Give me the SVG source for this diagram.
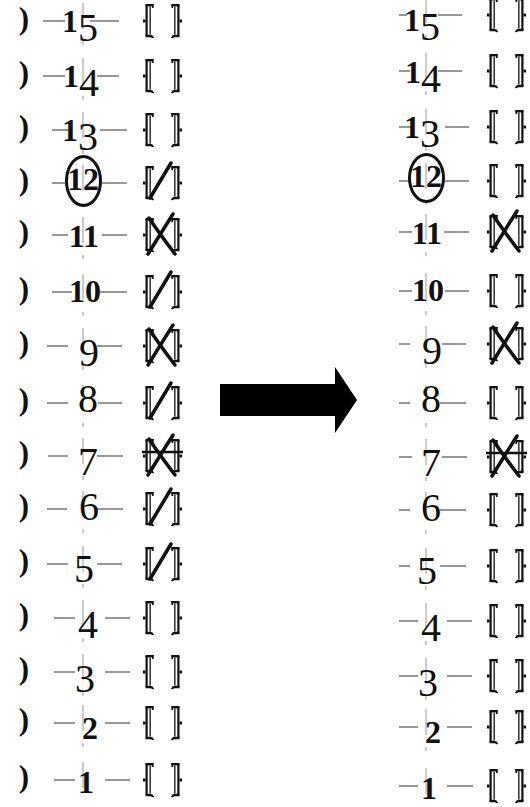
<svg xmlns="http://www.w3.org/2000/svg" width="530" height="807" viewBox="0 0 530 807">
<style>
.dash{stroke:#777;stroke-width:1.5}
.hair{stroke:#999;stroke-width:1}
.num{font-family:"Liberation Serif",serif;font-size:40px;fill:#111}
.s{font-size:32px;font-weight:bold}
.b{font-size:40px;font-weight:normal}
.par{font-family:"Liberation Serif",serif;font-size:31px;font-weight:bold;fill:#111}
.mk{stroke:#111;stroke-width:3.5;fill:none;stroke-linecap:round}
.bar{stroke:#111;stroke-width:2.5;fill:none}
.ring{stroke:#111;stroke-width:3;fill:none}
</style>
<defs>
<g id="lb" fill="#111">
<rect x="0" y="-1.5" width="2.5" height="3"/>
<rect x="2.5" y="-16" width="2.2" height="31"/>
<rect x="6.5" y="-14.5" width="1.3" height="28"/>
<rect x="2.5" y="-17" width="8" height="2.4"/>
<rect x="9" y="-17" width="1.6" height="4"/>
<path d="M2.5,13.8 H7.5 Q9.8,13.8 11.2,17 L9.4,17.2 Q8.5,16.2 7,16.2 H2.5Z"/>
</g>
<g id="bp">
<use href="#lb"/>
<use href="#lb" transform="translate(39,0) scale(-1,1)"/>
</g>
<path id="sl" class="mk" d="M7,15 L28,-20"/>
<g id="xx"><path class="mk" d="M6,-17 Q16,-2 32,19"/><path class="mk" d="M30,-21 Q18,-2 5,19"/></g>
<g id="xb"><use href="#xx"/><path class="bar" d="M-1,-4 H40"/></g>
</defs>

<g id="arrow">
<polygon points="220,384 335,384 335,367 357,400 335,433 335,416 220,416" fill="#000"/>
</g>

<g id="connectors">
<path class="dash" d="M43,21H65M90,21H119M43,76H65M97,76H119M52,130H72M100,130H127M52,183H65M102,183H127M52,235H68M102,235H127M52,292H72M100,292H127M47,346H68M97,346H122M47,403H68M98,403H122M48,456H68M97,456H123M47,509H67M97,509H123M47,564H68M97,564H122M54,618H75M105,618H130M54,672H75M105,672H130M54,723H75M105,723H130M54,780H75M105,780H130"/>
<path class="dash" d="M399,15H407M438,15H462M399,71H410M438,71H462M399,127H412M445,127H469M399,181H409M445,181H469M399,232H412M444,232H469M399,291H412M445,291H469M399,344H410M442,344H466M399,403H410M440,403H466M399,457H412M442,457H467M399,510H410M440,510H466M399,566H410M440,566H466M399,621H418M447,621H472M399,676H418M447,676H472M399,727H418M447,727H472M399,786H418M447,786H473"/>
<path class="hair" d="M83,3V29M83,41V45M83,58V84M83,96V100M83,112V138M83,150V154M83,165V191M83,203V207M83,217V243M83,255V259M83,274V300M83,312V316M83,328V354M83,366V370M83,385V411M83,423V427M83,438V464M83,476V480M83,491V517M83,529V533M83,546V572M83,584V588M83,600V626M83,638V642M83,654V680M83,692V696M83,705V731M83,743V747M83,762V788"/>
<path class="hair" d="M426,0V23M426,35V39M426,53V79M426,91V95M426,109V135M426,147V151M426,163V189M426,201V205M426,214V240M426,252V256M426,273V299M426,311V315M426,326V352M426,364V368M426,385V411M426,423V427M426,439V465M426,477V481M426,492V518M426,530V534M426,548V574M426,586V590M426,603V629M426,641V645M426,658V684M426,696V700M426,709V735M426,747V751M426,768V794"/>
</g>

<g id="left-column">
<g id="L15"><text class="par" x="24" y="29" text-anchor="middle">)</text><text class="num s" x="98" y="32" text-anchor="end">1<tspan class="b" dy="9">5</tspan></text><use href="#bp" x="143" y="21"/></g>
<g id="L14"><text class="par" x="24" y="83" text-anchor="middle">)</text><text class="num s" x="99" y="87" text-anchor="end">1<tspan class="b" dy="9">4</tspan></text><use href="#bp" x="143" y="76"/></g>
<g id="L13"><text class="par" x="24" y="137" text-anchor="middle">)</text><text class="num s" x="98" y="141" text-anchor="end">1<tspan class="b" dy="9">3</tspan></text><use href="#bp" x="143" y="130"/></g>
<g id="L12"><text class="par" x="24" y="190" text-anchor="middle">)</text><text class="num s" x="99" y="190" text-anchor="end">12</text><ellipse class="ring" cx="83.5" cy="181" rx="17" ry="24.5"/><use href="#bp" x="143" y="183"/><use href="#sl" x="143" y="183"/></g>
<g id="L11"><text class="par" x="24" y="242" text-anchor="middle">)</text><text class="num s" x="99" y="247" text-anchor="end">11</text><use href="#bp" x="143" y="235"/><use href="#xx" x="143" y="235"/></g>
<g id="L10"><text class="par" x="24" y="299" text-anchor="middle">)</text><text class="num s" x="101" y="302" text-anchor="end">10</text><use href="#bp" x="143" y="292"/><use href="#sl" x="143" y="292"/></g>
<g id="L9"><text class="par" x="24" y="353" text-anchor="middle">)</text><text class="num" x="99" y="366" text-anchor="end">9</text><use href="#bp" x="143" y="346"/><use href="#xx" x="143" y="346"/></g>
<g id="L8"><text class="par" x="24" y="410" text-anchor="middle">)</text><text class="num" x="98" y="412" text-anchor="end">8</text><use href="#bp" x="143" y="403"/><use href="#sl" x="143" y="403"/></g>
<g id="L7"><text class="par" x="24" y="463" text-anchor="middle">)</text><text class="num" x="98" y="475" text-anchor="end">7</text><use href="#bp" x="143" y="456"/><use href="#xb" x="143" y="456"/></g>
<g id="L6"><text class="par" x="24" y="516" text-anchor="middle">)</text><text class="num" x="99" y="520" text-anchor="end">6</text><use href="#bp" x="143" y="509"/><use href="#sl" x="143" y="509"/></g>
<g id="L5"><text class="par" x="24" y="571" text-anchor="middle">)</text><text class="num" x="94" y="582" text-anchor="end">5</text><use href="#bp" x="143" y="564"/><use href="#sl" x="143" y="564"/></g>
<g id="L4"><text class="par" x="24" y="625" text-anchor="middle">)</text><text class="num" x="98" y="638" text-anchor="end">4</text><use href="#bp" x="143" y="618"/></g>
<g id="L3"><text class="par" x="24" y="679" text-anchor="middle">)</text><text class="num" x="95" y="692" text-anchor="end">3</text><use href="#bp" x="143" y="672"/></g>
<g id="L2"><text class="par" x="24" y="730" text-anchor="middle">)</text><text class="num s" x="98" y="739" text-anchor="end">2</text><use href="#bp" x="143" y="723"/></g>
<g id="L1"><text class="par" x="24" y="787" text-anchor="middle">)</text><text class="num s" x="94" y="793" text-anchor="end">1</text><use href="#bp" x="143" y="780"/></g>
</g>

<g id="right-column">
<g id="R15"><text class="num s" x="440" y="31" text-anchor="end">1<tspan class="b" dy="9">5</tspan></text><use href="#bp" x="487" y="15"/></g>
<g id="R14"><text class="num s" x="441" y="83" text-anchor="end">1<tspan class="b" dy="9">4</tspan></text><use href="#bp" x="487" y="71"/></g>
<g id="R13"><text class="num s" x="440" y="138" text-anchor="end">1<tspan class="b" dy="9">3</tspan></text><use href="#bp" x="487" y="127"/></g>
<g id="R12"><text class="num s" x="442" y="187" text-anchor="end">12</text><ellipse class="ring" cx="426.5" cy="178" rx="17" ry="23.5"/><use href="#bp" x="487" y="181"/></g>
<g id="R11"><text class="num s" x="442" y="244" text-anchor="end">11</text><use href="#bp" x="487" y="232"/><use href="#xx" x="487" y="232"/></g>
<g id="R10"><text class="num s" x="444" y="301" text-anchor="end">10</text><use href="#bp" x="487" y="291"/></g>
<g id="R9"><text class="num" x="442" y="364" text-anchor="end">9</text><use href="#bp" x="487" y="344"/><use href="#xx" x="487" y="344"/></g>
<g id="R8"><text class="num" x="441" y="412" text-anchor="end">8</text><use href="#bp" x="487" y="403"/></g>
<g id="R7"><text class="num" x="441" y="476" text-anchor="end">7</text><use href="#bp" x="487" y="457"/><use href="#xb" x="487" y="457"/></g>
<g id="R6"><text class="num" x="441" y="521" text-anchor="end">6</text><use href="#bp" x="487" y="510"/></g>
<g id="R5"><text class="num" x="437" y="584" text-anchor="end">5</text><use href="#bp" x="487" y="566"/></g>
<g id="R4"><text class="num" x="441" y="641" text-anchor="end">4</text><use href="#bp" x="487" y="621"/></g>
<g id="R3"><text class="num" x="438" y="696" text-anchor="end">3</text><use href="#bp" x="487" y="676"/></g>
<g id="R2"><text class="num s" x="441" y="743" text-anchor="end">2</text><use href="#bp" x="487" y="727"/></g>
<g id="R1"><text class="num s" x="437" y="799" text-anchor="end">1</text><use href="#bp" x="487" y="786"/></g>
</g>
</svg>
